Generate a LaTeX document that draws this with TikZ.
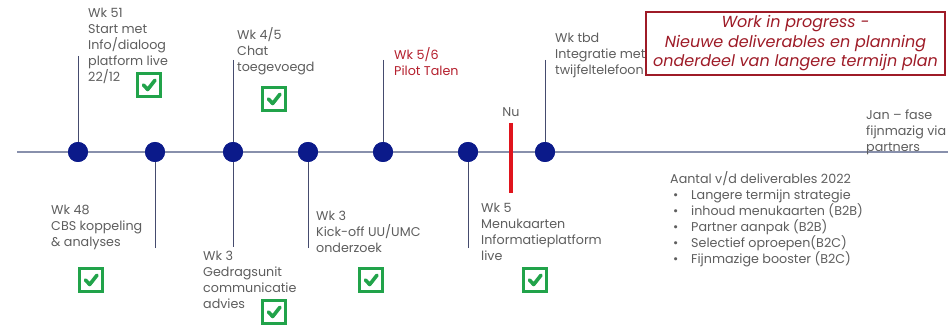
\documentclass[tikz,border=0pt]{standalone}
\usepackage{fontspec}
\setmainfont{Poppins}
\begin{document}
\begin{tikzpicture}[x=1pt,y=-1pt,
  txt/.style={anchor=north west,inner sep=0pt,align=left,text=txtgray,font=\fontsize{12.7}{16}\selectfont},
  redtxt/.style={txt,text=pilotred},
  dot/.style={circle,fill=navy,minimum size=20pt,inner sep=0pt},
  stem/.style={draw=stemcol,line width=1pt},
  chkbox/.style={draw=chkgreen,line width=2.6pt,minimum size=22.5pt,inner sep=0pt,
    path picture={\draw[chkgreen,line width=3.6pt,line cap=round,line join=round]
      ([xshift=-5.5pt,yshift=0pt]path picture bounding box.center) -- ++(4.2pt,-4.5pt) -- ++(7.3pt,9.3pt);}}
]
\definecolor{txtgray}{HTML}{5E5E5E}
\definecolor{navy}{HTML}{0B1A8A}
\definecolor{stemcol}{HTML}{454B6E}
\definecolor{axiscol}{HTML}{8890AC}
\definecolor{chkgreen}{HTML}{21A34A}
\definecolor{pilotred}{HTML}{B5202E}
\definecolor{boxred}{HTML}{9E1B27}
\definecolor{nured}{HTML}{E0141C}
\useasboundingbox (0,0) rectangle (948,326);
\fill[white] (0,0) rectangle (948,326);

% axis
\coordinate (axL) at (17,152);
\coordinate (axR) at (948,152);
\draw[axiscol,line width=1.3pt] (axL) -- (axR);

% dots
\node[dot] (d1) at (78,152) {};
\node[dot] (d2) at (155,152) {};
\node[dot] (d3) at (233,152) {};
\node[dot] (d4) at (308,152) {};
\node[dot] (d5) at (383,152) {};
\node[dot] (d6) at (468,152) {};
\node[dot] (d7) at (545,152) {};

% stems
\coordinate (u1) at (78,56);
\coordinate (b2) at (155,248);
\coordinate (u3) at (233,60);
\coordinate (b3) at (233,247);
\coordinate (b4) at (308,248);
\coordinate (u5) at (383,60);
\coordinate (b6) at (468,248);
\coordinate (u7) at (545,60);
\draw[stem] (u1) -- (d1.center);
\draw[stem] (b2) -- (d2.center);
\draw[stem] (u3) -- (b3);
\draw[stem] (b4) -- (d4.center);
\draw[stem] (u5) -- (d5.center);
\draw[stem] (b6) -- (d6.center);
\draw[stem] (u7) -- (d7.center);
% redraw dots on top of stems
\foreach \n in {d1,d2,d3,d4,d5,d6,d7} {\fill[navy] (\n) circle (10pt);}

% Nu marker
\coordinate (nuT) at (511,123);
\coordinate (nuB) at (511,193);
\draw[nured,line width=4pt] (nuT) -- (nuB);
\node[anchor=base,inner sep=0pt,text=txtgray,font=\fontsize{12.7}{16}\selectfont] (nu) at (511,117) {Nu};

% top labels
\node[txt] (t1) at (88,8) {Wk 51\\Start met\\Info/dialoog\\platform live\\22/12};
\node[txt] (t3) at (237,27) {Wk 4/5\\Chat\\toegevoegd};
\node[redtxt] (t5) at (394,47) {Wk 5/6\\Pilot Talen};
\node[txt] (t7) at (555,33) {Wk tbd\\Integratie met\\twijfeltelefoon};

% bottom labels
\node[txt] (b48) at (51,205) {Wk 48\\CBS koppeling\\\& analyses};
\node[txt] (bg) at (203,251) {Wk 3\\Gedragsunit\\communicatie\\advies};
\node[txt] (bk) at (316,211) {Wk 3\\Kick-off UU/UMC\\onderzoek};
\node[txt] (bm) at (481,203) {Wk 5\\Menukaarten\\Informatieplatform\\live};

% check boxes
\node[chkbox] (c1) at (149,85) {};
\node[chkbox] (c3) at (274,99) {};
\node[chkbox] (c48) at (91,280) {};
\node[chkbox] (cg) at (274,312) {};
\node[chkbox] (ck) at (371,280) {};
\node[chkbox] (cm) at (535,280) {};

% right side
\node[txt] (jan) at (866,110) {Jan -- fase\\fijnmazig via\\partners};
\node[txt] (list) at (670,171) {Aantal v/d deliverables 2022\\
\hspace*{3pt}\makebox[18pt][l]{\textbullet}Langere termijn strategie\\
\hspace*{3pt}\makebox[18pt][l]{\textbullet}inhoud menukaarten (B2B)\\
\hspace*{3pt}\makebox[18pt][l]{\textbullet}Partner aanpak (B2B)\\
\hspace*{3pt}\makebox[18pt][l]{\textbullet}Selectief oproepen(B2C)\\
\hspace*{3pt}\makebox[18pt][l]{\textbullet}Fijnmazige booster (B2C)};

% work in progress box
\node[draw=boxred,fill=white,line width=1.2pt,minimum width=299pt,minimum height=63pt,inner sep=0pt] (wip) at (795.5,43.5) {};
\node[align=center,inner sep=0pt,text=boxred,font=\fontsize{16}{19.5}\selectfont\itshape] (wipt) at (wip.center) {Work in progress -\\Nieuwe deliverables en planning\\onderdeel van langere termijn plan};
\end{tikzpicture}
\end{document}
